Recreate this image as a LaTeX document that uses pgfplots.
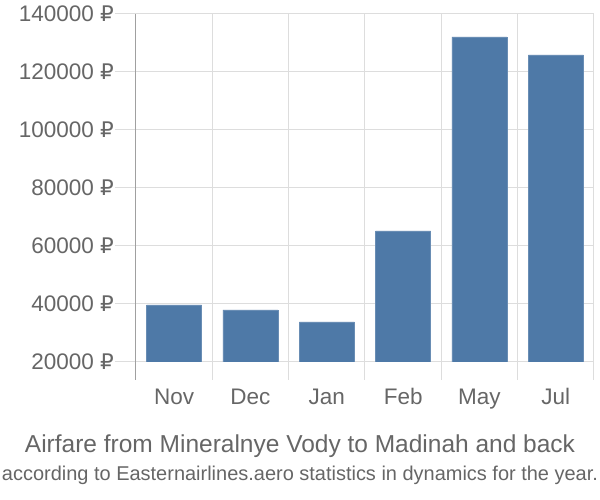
\documentclass[border=0pt]{standalone}
\usepackage{fontspec}
\setmainfont{Liberation Sans}
\newfontfamily\rub{DejaVu Sans}
\usepackage{pgfplots}
\pgfplotsset{compat=1.18}
\definecolor{barblue}{RGB}{78,121,167}
\definecolor{txt}{RGB}{102,102,102}
\definecolor{gridc}{RGB}{221,221,221}
\definecolor{axc}{RGB}{160,160,160}
\newcommand{\R}{{\rub\fontsize{21.5}{24}\selectfont ₽}}
\begin{document}
\begin{tikzpicture}[x=1pt,y=1pt]
\path[use as bounding box] (0,0) rectangle (600,500);
\begin{axis}[
  at={(136pt,138pt)}, anchor=south west,
  scale only axis, width=458pt, height=348pt,
  xmin=-0.5, xmax=5.5, ymin=20000, ymax=140000,
  scaled y ticks=false,
  axis x line*=bottom,
  x axis line style={draw=none},
  axis y line*=left,
  y axis line style={draw=axc, line width=1pt, -, shorten <=-18pt},
  xtick={0,1,2,3,4,5},
  xticklabels={Nov,Dec,Jan,Feb,May,Jul},
  minor xtick={-0.5,0.5,1.5,2.5,3.5,4.5,5.5},
  xminorgrids=true,
  minor grid style={draw=gridc, line width=1pt},
  xtick align=outside,
  minor tick length=18pt,
  minor x tick style={draw=gridc, line width=1pt},
  major x tick style={draw=none},
  ytick={20000,40000,60000,80000,100000,120000,140000},
  yticklabels={20000 \R,40000 \R,60000 \R,80000 \R,100000 \R,120000 \R,140000 \R},
  ymajorgrids=true,
  major grid style={draw=gridc, line width=1pt},
  ytick align=outside,
  major tick length=21pt,
  y tick style={draw=gridc, line width=1pt},
  tick label style={font=\fontsize{22.5}{25}\selectfont, text=txt},
  yticklabel style={inner xsep=1pt},
  xticklabel style={yshift=-2pt},
  ybar, bar width=55pt,
]
\addplot[fill=barblue, draw=barblue!85!white, line width=0.5pt] coordinates {
  (0,39655) (1,37931) (2,33793) (3,65172) (4,132069) (5,125862)
};
\end{axis}
\node[text=txt, font=\fontsize{24.5}{28}\selectfont] at (300,54) {Airfare from Mineralnye Vody to Madinah and back};
\node[text=txt, font=\fontsize{19}{22}\selectfont, inner sep=0pt] at (300,25) {\resizebox{596pt}{!}{according to Easternairlines.aero statistics in dynamics for the year.}};
\end{tikzpicture}
\end{document}
